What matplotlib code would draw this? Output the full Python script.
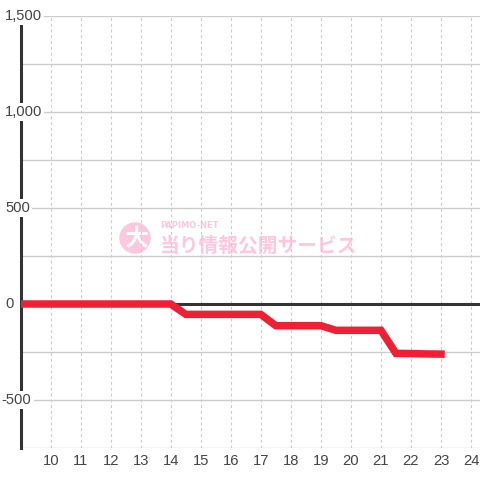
#!/usr/bin/env python3
"""Slot data graph: cumulative difference by hour."""

import matplotlib
matplotlib.use("Agg")
import matplotlib.pyplot as plt
from matplotlib.patches import Circle

# ---- data ----------------------------------------------------------------
hours = [9, 9.5, 10, 10.5, 11, 11.5, 12, 12.5, 13, 13.5, 14,
         14.5, 15, 15.5, 16, 16.5, 17,
         17.5, 18, 18.5, 19,
         19.5, 20, 20.5, 21,
         21.5, 22, 22.5, 23]
diff = [0, 0, 0, 0, 0, 0, 0, 0, 0, 0, 0,
        -54, -54, -54, -54, -54, -54,
        -113, -113, -113, -113,
        -137, -137, -137, -137,
        -257, -258, -260, -261]

x_ticks = list(range(10, 25))
y_label_ticks = [1500, 1000, 500, 0, -500]
y_label_text = ["1,500", "1,000", "500", "0", "-500"]
y_grid_ticks = [-750, -500, -250, 0, 250, 500, 750, 1000, 1250, 1500]

RED = "#ee2034"
DARK = "#333333"
GRID = "#cccccc"
PINK = "#fdc8de"
FS = 10.6

plt.rcParams["font.family"] = ["Liberation Sans", "DejaVu Sans"]

W = H = 480
fig = plt.figure(figsize=(4.8, 4.8), dpi=100)
ax = fig.add_axes([20.7 / W, 32 / H, (W - 20.7) / W, 432 / H])
ax.set_xlim(9, 24.3)
ax.set_ylim(-750, 1500)
ax.set_axisbelow(True)

# watermark (behind grid)
ax.add_patch(Circle((135 / W, 1 - 238 / H), 15 / W, transform=fig.transFigure,
                    color=PINK, zorder=0.1, clip_on=False))
ax.text(136 / W, 1 - 239 / H, "大", transform=fig.transFigure, color="white",
        fontsize=17, fontweight="bold", ha="center", va="center",
        family=["Noto Sans CJK JP"], zorder=0.2)
ax.text(160 / W, 1 - 246.5 / H, "当り情報公開サービス", transform=fig.transFigure,
        color=PINK, fontsize=14.2, fontweight="bold", ha="left", va="center",
        family=["Noto Sans CJK JP"], zorder=0.2)
ax.text(160 / W, 1 - 226 / H, "PAPIMO-NET", transform=fig.transFigure,
        color=PINK, fontsize=6, fontweight="bold", ha="left", va="center",
        family=["DejaVu Sans"], zorder=0.2)

# grid
ax.set_xticks(x_ticks)
ax.set_yticks(y_grid_ticks)
ax.yaxis.grid(True, color=GRID, linewidth=1, linestyle="-")
ax.xaxis.grid(True, color=GRID, linewidth=0.8, linestyle=(0, (2.6, 2.6)))
ax.tick_params(axis="both", length=0)
ax.tick_params(axis="y", labelleft=False)
ax.tick_params(axis="x", labelsize=FS, labelcolor="#444444", pad=4.5)

for side in ("top", "right", "bottom"):
    ax.spines[side].set_visible(False)
ax.spines["left"].set_color(DARK)
ax.spines["left"].set_linewidth(2.2)
ax.spines["left"].set_zorder(2)

ax.axhline(0, color=DARK, linewidth=2.2, zorder=2)
ax.plot(hours, diff, color=RED, linewidth=5.4, solid_capstyle="projecting",
        solid_joinstyle="miter", zorder=3)

# y labels sit over the spine with a white box
ytrans = ax.get_yaxis_transform()
x_left = (5 - 20.7) / (W - 20.7)
for val, txt in zip(y_label_ticks, y_label_text):
    xx = x_left - (3.3 / (W - 20.7) if txt.startswith("-") else 0)
    ax.text(xx, val, txt, transform=ytrans, ha="left", va="center",
            fontsize=FS, color="#444444", clip_on=False, zorder=4,
            bbox=dict(facecolor="white", edgecolor="none", pad=1.5))

fig.savefig("out.png", dpi=100)
